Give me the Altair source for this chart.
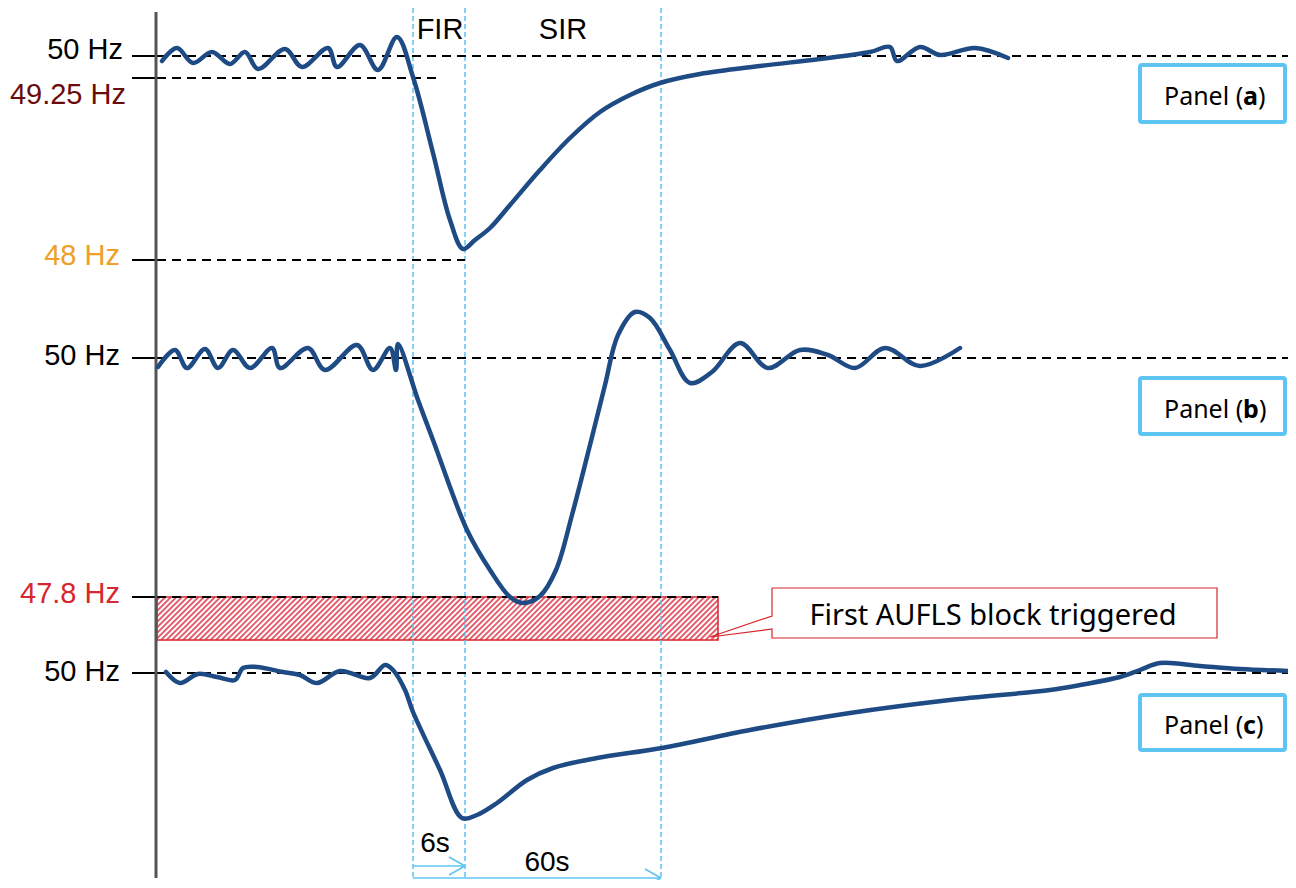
import altair as alt
import pandas as pd

# ---------------- data (schematic coordinates: x = time axis, y = frequency position) -------------
PANEL_A_X = [162, 177, 193, 212, 230, 245, 258, 285, 302, 328, 337, 360, 378, 397, 413, 433, 450, 463,
             475, 490, 510, 540, 570, 600, 630, 660, 700, 760, 820, 870, 890, 897, 920, 940, 975, 1008]
PANEL_A_Y = [61, 48, 63, 52, 64, 52, 69, 49, 67, 48, 67, 45, 70, 37, 77, 153, 220, 249,
             240, 228, 205, 170, 138, 112, 95, 83, 74, 66, 59, 52, 47, 61, 47, 55, 48, 58]

PANEL_B_X = [158, 175, 187, 205, 218, 233, 250, 272, 280, 308, 325, 357, 373, 390, 396, 398, 418, 433,
             467, 490, 510, 523, 540, 556, 572, 590, 605, 618, 635, 650, 670, 690, 712, 740, 768,
             800, 828, 855, 885, 920, 960]
PANEL_B_Y = [367, 350, 368, 349, 368, 350, 368, 348, 368, 348, 370, 345, 370, 348, 370, 344, 400, 440,
             530, 570, 597, 603, 596, 570, 515, 445, 385, 335, 312, 318, 350, 383, 372, 343, 368,
             350, 355, 368, 348, 366, 348]

PANEL_C_X = [166, 180, 198, 217, 235, 243, 257, 283, 300, 317, 340, 370, 385, 393, 405, 413, 440, 462,
             477, 497, 527, 553, 597, 662, 750, 850, 950, 1050, 1080, 1120, 1140, 1160, 1200, 1240, 1290]
PANEL_C_Y = [672, 683, 674, 677, 680, 668, 667, 672, 675, 683, 671, 678, 665, 670, 690, 712, 770, 818,
             815, 803, 780, 768, 758, 748, 730, 713, 700, 690, 685, 677, 670, 663, 666, 669, 671]

# reference frequency levels
REF_TEXT = ["50 Hz", "49.25 Hz", "48 Hz", "50 Hz", "47.8 Hz", "50 Hz"]
REF_COLOR = ["#000000", "#6b0c0c", "#f0a027", "#000000", "#d7262e", "#000000"]
REF_Y = [56, 78, 260, 358, 597, 673]
REF_END = [1292, 442, 465, 1292, 718, 1292]
REF_LABEL_Y = [59, 104, 265, 365, 603, 681]
REF_LABEL_X = [123, 126, 120, 120, 120, 120]

# time markers (event, 6 s, 60 s)
MARK_X = [413, 465, 661]
PHASE_TEXT = ["FIR", "SIR"]
PHASE_X = [440, 563]
DUR_TEXT = ["6s", "60s"]
DUR_END = [465, 661]
DUR_Y = [866, 878]
DUR_LABEL_X = [435, 547]
DUR_LABEL_Y = [852, 871]

# AUFLS block
BLOCK_X0, BLOCK_X1, BLOCK_Y0, BLOCK_Y1 = 157, 718, 597, 640
CALLOUT_X = [772, 1217, 1217, 772, 772, 710, 772, 772]
CALLOUT_Y = [588, 588, 638, 638, 629, 637, 616, 588]
CALLOUT_TEXT = "First AUFLS block triggered"

# panel tags
PANEL_TAG = ["a", "b", "c"]
PANEL_Y0 = [65, 378, 695]
PANEL_Y1 = [122, 434, 750]

# ---------------- chart ----------------
W, H = 1280, 872
xs = alt.Scale(domain=[8, 8 + W], nice=False, zero=False)
ys = alt.Scale(domain=[8, 8 + H], nice=False, zero=False, reverse=True)


def X(f):
    return alt.X(f, type="quantitative", scale=xs, axis=None)


def Y(f):
    return alt.Y(f, type="quantitative", scale=ys, axis=None)


def X2(f):
    return alt.X2(f)


def Y2(f):
    return alt.Y2(f)


BLUE = "#1f4b85"
CYAN = "#5ec4f2"
RED = "#d7262e"
LABEL_FONT = "Liberation Sans"
LABEL_SIZE = 29

# curves
rows = []
for name, xx, yy in [("a", PANEL_A_X, PANEL_A_Y), ("b", PANEL_B_X, PANEL_B_Y), ("c", PANEL_C_X, PANEL_C_Y)]:
    for i, (a, b) in enumerate(zip(xx, yy)):
        rows.append({"s": name, "i": i, "x": a, "y": b})
curves = pd.DataFrame(rows)

curve_layer = alt.Chart(curves).mark_line(
    color=BLUE, strokeWidth=4.5, interpolate="catmull-rom", strokeCap="round", strokeJoin="round"
).encode(x=X("x"), y=Y("y"), detail="s:N", order="i:Q")

# hatch of the block
hrows = []
c = BLOCK_X0 + BLOCK_Y0 + 3.0
while c < BLOCK_X1 + BLOCK_Y1:
    xa = max(BLOCK_X0, c - BLOCK_Y1)
    xb = min(BLOCK_X1, c - BLOCK_Y0)
    if xa < xb:
        hrows.append({"x": xa, "y": c - xa, "x2": xb, "y2": c - xb})
    c += 5.5
hatch = pd.DataFrame(hrows)
hatch_layer = alt.Chart(hatch).mark_rule(color="#e35d6a", strokeWidth=1.8).encode(
    x=X("x"), y=Y("y"), x2=X2("x2"), y2=Y2("y2"))

block = pd.DataFrame([{"x": BLOCK_X0, "x2": BLOCK_X1, "y": BLOCK_Y0, "y2": BLOCK_Y1}])
block_layer = alt.Chart(block).mark_rect(fillOpacity=0, stroke=RED, strokeWidth=1.5).encode(
    x=X("x"), x2=X2("x2"), y=Y("y"), y2=Y2("y2"))

# reference lines
refs = pd.DataFrame({"y": REF_Y, "end": REF_END, "t0": [132] * 6, "t1": [157] * 6,
                     "text": REF_TEXT, "color": REF_COLOR, "ly": REF_LABEL_Y, "lx": REF_LABEL_X})
ref_dash = alt.Chart(refs).mark_rule(color="black", strokeWidth=2, strokeDash=[9, 6]).encode(
    x=X("t1"), x2=X2("end"), y=Y("y"))
ref_tick = alt.Chart(refs).mark_rule(color="black", strokeWidth=2).encode(
    x=X("t0"), x2=X2("t1"), y=Y("y"))
ref_text = alt.Chart(refs).mark_text(
    font=LABEL_FONT, fontSize=LABEL_SIZE, align="right", baseline="alphabetic").encode(
    x=X("lx"), y=Y("ly"), text="text:N", color=alt.Color("color:N", scale=None))

# time markers
marks = pd.DataFrame({"x": MARK_X, "y0": [8] * 3, "y1": [888] * 3})
mark_layer = alt.Chart(marks).mark_rule(color=CYAN, strokeWidth=1.5, strokeDash=[5, 3]).encode(
    x=X("x"), y=Y("y0"), y2=Y2("y1"))

# vertical axis line
axis_df = pd.DataFrame([{"x": 156, "y0": 12, "y1": 878}])
axis_layer = alt.Chart(axis_df).mark_rule(color="#555555", strokeWidth=3).encode(
    x=X("x"), y=Y("y0"), y2=Y2("y1"))

# phase labels
phase = pd.DataFrame({"x": PHASE_X, "y": [39, 39], "text": PHASE_TEXT})
phase_layer = alt.Chart(phase).mark_text(
    font=LABEL_FONT, fontSize=LABEL_SIZE, align="center", baseline="alphabetic", color="black").encode(
    x=X("x"), y=Y("y"), text="text:N")

# duration arrows
arows = []
for e, yy in zip(DUR_END, DUR_Y):
    arows.append({"x": MARK_X[0], "y": yy, "x2": e, "y2": yy})
    arows.append({"x": e - 16, "y": yy - 9, "x2": e, "y2": yy})
    arows.append({"x": e - 16, "y": yy + 9, "x2": e, "y2": yy})
arrows = pd.DataFrame(arows)
arrow_layer = alt.Chart(arrows).mark_rule(color=CYAN, strokeWidth=1.5).encode(
    x=X("x"), y=Y("y"), x2=X2("x2"), y2=Y2("y2"))
dur = pd.DataFrame({"x": DUR_LABEL_X, "y": DUR_LABEL_Y, "text": DUR_TEXT})
dur_layer = alt.Chart(dur).mark_text(
    font=LABEL_FONT, fontSize=LABEL_SIZE - 1, align="center", baseline="alphabetic", color="black").encode(
    x=X("x"), y=Y("y"), text="text:N")

# callout
callout = pd.DataFrame({"x": CALLOUT_X, "y": CALLOUT_Y, "i": list(range(len(CALLOUT_X)))})
callout_line = alt.Chart(callout).mark_line(color=RED, strokeWidth=1.2).encode(
    x=X("x"), y=Y("y"), order="i:Q")
callout_text = alt.Chart(pd.DataFrame([{"x": 993, "y": 625, "t": CALLOUT_TEXT}])).mark_text(
    font="Noto Sans", fontSize=29, align="center", baseline="alphabetic", color="black").encode(
    x=X("x"), y=Y("y"), text="t:N")

# panel tags
tags = pd.DataFrame({"tag": PANEL_TAG, "y0": PANEL_Y0, "y1": PANEL_Y1,
                     "x0": [1140] * 3, "x1": [1285] * 3})
tags["base"] = (tags["y0"] + tags["y1"]) / 2 + 11.5
tags["xa"] = 1164
tags["xb"] = 1243
tags["xc"] = [1258, 1259, 1256]
tags["open"] = "Panel ("
tags["close"] = ")"
tag_box = alt.Chart(tags).mark_rect(fill="white", stroke=CYAN, strokeWidth=4, cornerRadius=2).encode(
    x=X("x0"), x2=X2("x1"), y=Y("y0"), y2=Y2("y1"))
tag_t1 = alt.Chart(tags).mark_text(font="Noto Sans", fontSize=25, align="left", baseline="alphabetic",
                                   color="black").encode(x=X("xa"), y=Y("base"), text="open:N")
tag_t2 = alt.Chart(tags).mark_text(font="Noto Sans", fontSize=25, fontWeight="bold", align="left",
                                   baseline="alphabetic", color="black").encode(
    x=X("xb"), y=Y("base"), text="tag:N")
tag_t3 = alt.Chart(tags).mark_text(font="Noto Sans", fontSize=25, align="left", baseline="alphabetic",
                                   color="black").encode(x=X("xc"), y=Y("base"), text="close:N")

chart = alt.layer(
    hatch_layer, block_layer, mark_layer, ref_dash, ref_tick, axis_layer, curve_layer,
    callout_line, callout_text, tag_box, tag_t1, tag_t2, tag_t3,
    ref_text, phase_layer, arrow_layer, dur_layer,
).properties(
    width=W, height=H, autosize=alt.AutoSizeParams(type="none"), padding=0,
    background="white",
).configure_view(stroke=None)

chart.save("out.html", embed_options={"renderer": "svg", "actions": False})
